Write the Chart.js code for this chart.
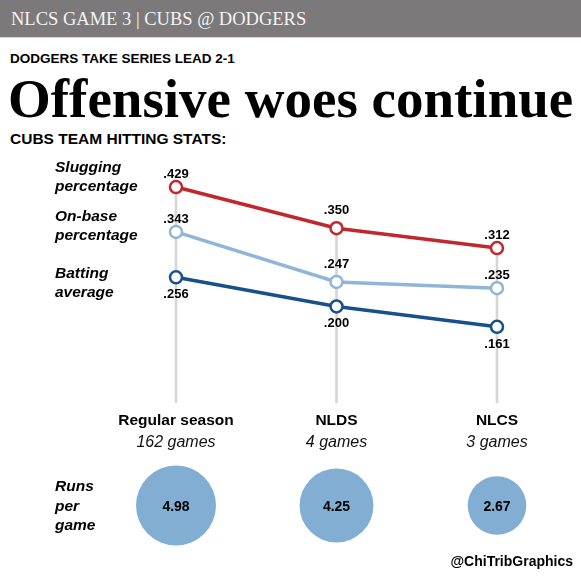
<!DOCTYPE html>
<html>
<head>
<meta charset="utf-8">
<script src="https://cdn.jsdelivr.net/npm/chart.js@4/dist/chart.umd.min.js"></script>
<style>
  body { margin: 0; background: #fff; }
  #page { position: relative; width: 581px; height: 581px; overflow: hidden; background: #fff; }
  .txt { position: absolute; white-space: nowrap; color: #000; }
  #bar { position: absolute; left: 0; top: 0; width: 581px; height: 37px; background: #7b797a; border-bottom: 1px solid #d4d4d4; }
  #kicker { left: 11px; top: 9.5px; font: 18.5px/18.5px "Liberation Serif", serif; color: #f4f4f4; }
  #deck { left: 10px; top: 51.6px; font: bold 13.5px/13.5px "Liberation Sans", Arial, sans-serif; }
  #title { left: 8px; top: 71px; font: bold 55px/55px "Liberation Serif", serif; }
  #sub { left: 10px; top: 131px; font: bold 15.5px/15.5px "Liberation Sans", Arial, sans-serif; }
  .series { left: 55px; font: italic bold 15.5px/19px "Liberation Sans", Arial, sans-serif; }
  #runs { left: 55px; top: 476px; font: italic bold 15.5px/19.5px "Liberation Sans", Arial, sans-serif; }
  #credit { right: 8px; top: 554px; font: bold 14px/14px "Liberation Sans", Arial, sans-serif; }
  #lineChart { position: absolute; left: 0; top: 0; }
  #bubbleChart { position: absolute; left: 0; top: 455px; }
</style>
</head>
<body>
<div id="page">
  <div id="bar"></div>
  <div class="txt" id="kicker">NLCS GAME 3 | CUBS @ DODGERS</div>
  <div class="txt" id="deck">DODGERS TAKE SERIES LEAD 2-1</div>
  <div class="txt" id="title">Offensive woes continue</div>
  <div class="txt" id="sub">CUBS TEAM HITTING STATS:</div>
  <canvas id="lineChart" width="581" height="455"></canvas>
  <canvas id="bubbleChart" width="581" height="101"></canvas>
  <div class="txt series" style="top:157px">Slugging<br>percentage</div>
  <div class="txt series" style="top:206px">On-base<br>percentage</div>
  <div class="txt series" style="top:263px">Batting<br>average</div>
  <div class="txt" id="runs">Runs<br>per<br>game</div>
  <div class="txt" id="credit">@ChiTribGraphics</div>
</div>
<script>
// Data
var categories = ["Regular season", "NLDS", "NLCS"];
var gamesPlayed = ["162 games", "4 games", "3 games"];
var slugging = [0.429, 0.350, 0.312];
var onBase = [0.343, 0.247, 0.235];
var batting = [0.256, 0.200, 0.161];
var runsPerGame = [4.98, 4.25, 2.67];

var RED = "#c1272d";
var LIGHT_BLUE = "#8fb6d8";
var DARK_BLUE = "#17508a";
var BUBBLE = "#82aed3";
var Y_MIN = 0.015;
var Y_MAX = 0.5;

function fmt(v) {
    return v.toFixed(3).replace(/^0/, "");
}

document.addEventListener("DOMContentLoaded", function() {
    Chart.defaults.font.family = '"Liberation Sans", Arial, sans-serif';
    Chart.defaults.animation = false;

    // value labels next to each point + category labels under the chart
    var labelPlugin = {
        id: "labels",
        afterDatasetsDraw: function(chart) {
            var ctx = chart.ctx;
            ctx.save();
            ctx.fillStyle = "#000";
            ctx.textAlign = "center";
            ctx.textBaseline = "alphabetic";
            ctx.font = "bold 13px " + Chart.defaults.font.family;
            chart.data.datasets.forEach(function(ds, di) {
                if (!ds.labelSide) return;
                var meta = chart.getDatasetMeta(di);
                meta.data.forEach(function(pt, i) {
                    var mid = (i > 0 && i < meta.data.length - 1);
                    var dy = ds.labelSide === "above" ? (mid ? -19 : -14) : 16;
                    ctx.fillText(fmt(ds.data[i]), pt.x, pt.y + dy + 4.7);
                });
            });
            var xs = chart.scales.x;
            var bottom = chart.chartArea.bottom;
            categories.forEach(function(c, i) {
                var x = xs.getPixelForValue(i);
                ctx.font = "bold 15.5px " + Chart.defaults.font.family;
                ctx.fillText(c, x, bottom + 22);
                ctx.font = "italic 16px " + Chart.defaults.font.family;
                ctx.fillStyle = "#111";
                ctx.fillText(gamesPlayed[i], x, bottom + 44);
                ctx.fillStyle = "#000";
            });
            ctx.restore();
        }
    };

    function lineSet(label, data, color, side, order) {
        return {
            type: "line",
            label: label,
            data: data,
            borderColor: color,
            borderWidth: 3.5,
            pointRadius: 6,
            pointBorderWidth: 2.5,
            pointBackgroundColor: "#fff",
            pointBorderColor: color,
            tension: 0,
            labelSide: side,
            order: order
        };
    }

    var lineChart = new Chart(document.getElementById("lineChart"), {
        type: "line",
        data: {
            labels: categories,
            datasets: [
                lineSet("Slugging percentage", slugging, RED, "above", 1),
                lineSet("On-base percentage", onBase, LIGHT_BLUE, "above", 2),
                lineSet("Batting average", batting, DARK_BLUE, "below", 3),
                {
                    // thin gray stems from the top point down
                    type: "bar",
                    label: "stem",
                    data: slugging.map(function(v) { return [Y_MIN, v]; }),
                    backgroundColor: "#d6d6d6",
                    barThickness: 2,
                    order: 10
                }
            ]
        },
        options: {
            responsive: false,
            layout: { autoPadding: false, padding: { left: 95.75, right: 3.75, top: 150, bottom: 52 } },
            plugins: { legend: { display: false }, tooltip: { enabled: false } },
            scales: {
                x: { type: "category", offset: true, display: false },
                y: { min: Y_MIN, max: Y_MAX, display: false }
            }
        },
        plugins: [labelPlugin]
    });

    // Runs per game bubbles, area proportional to value
    var bubbleText = {
        id: "bubbleText",
        afterDatasetsDraw: function(chart) {
            var ctx = chart.ctx;
            var meta = chart.getDatasetMeta(0);
            ctx.save();
            ctx.fillStyle = "#000";
            ctx.textAlign = "center";
            ctx.font = "bold 14px " + Chart.defaults.font.family;
            meta.data.forEach(function(el, i) {
                ctx.fillText(runsPerGame[i].toFixed(2), el.x, el.y + 5);
            });
            ctx.restore();
        }
    };

    var bubbleChart = new Chart(document.getElementById("bubbleChart"), {
        type: "bubble",
        data: {
            labels: categories,
            datasets: [{
                data: runsPerGame.map(function(v, i) {
                    return { x: categories[i], y: 0, r: 17.92 * Math.sqrt(v) };
                }),
                backgroundColor: BUBBLE,
                borderWidth: 0,
                clip: false
            }]
        },
        options: {
            responsive: false,
            layout: { autoPadding: false, padding: { left: 95.75, right: 3.75, top: 0, bottom: 0 } },
            plugins: { legend: { display: false }, tooltip: { enabled: false } },
            scales: {
                x: { type: "category", offset: true, display: false },
                y: { min: -1, max: 1, display: false }
            }
        },
        plugins: [bubbleText]
    });
});
</script>
</body>
</html>
